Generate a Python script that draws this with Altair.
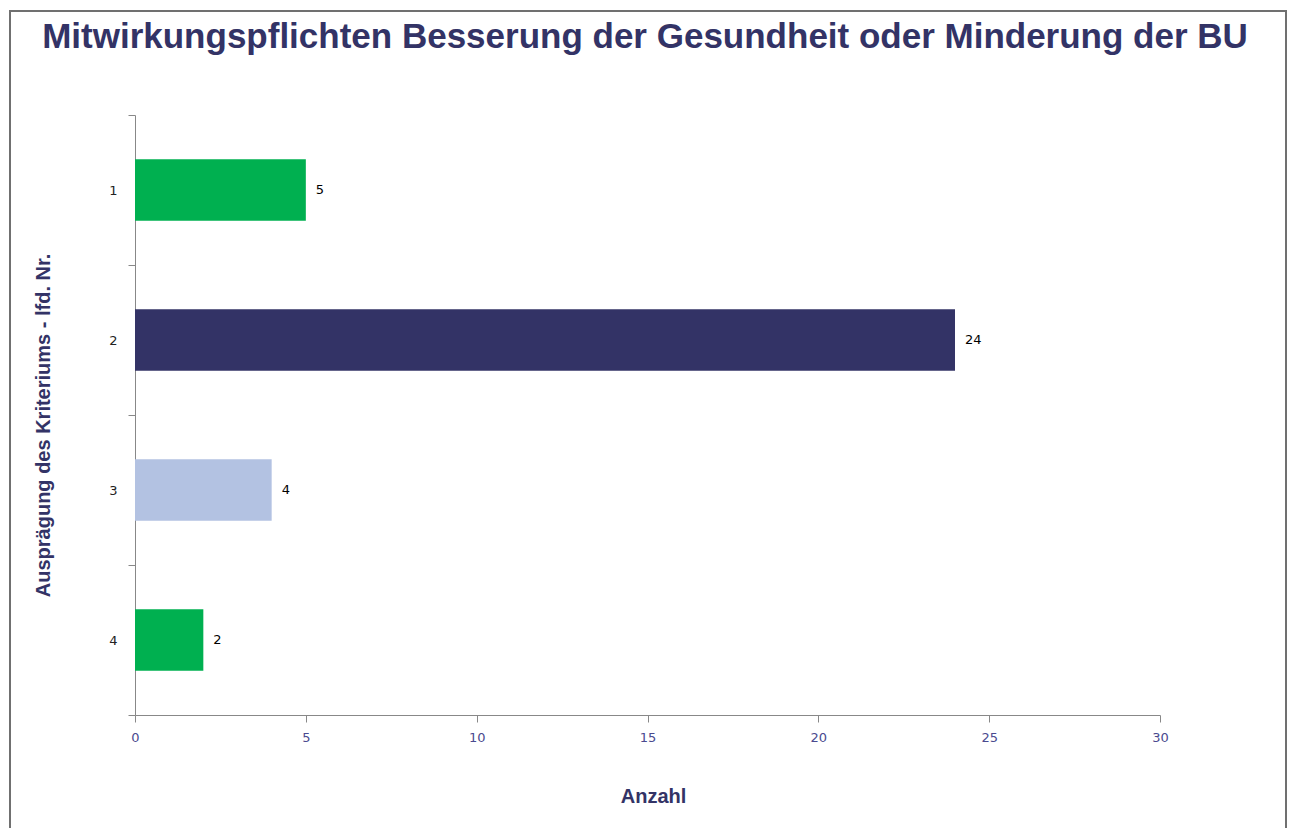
import altair as alt
import pandas as pd

categories = ["1", "2", "3", "4"]
values = [5, 24, 4, 2]
colors = ["#00B050", "#333366", "#B3C2E2", "#00B050"]
x_ticks = [0, 5, 10, 15, 20, 25, 30]

title_text = "Mitwirkungspflichten Besserung der Gesundheit oder Minderung der BU"
x_title = "Anzahl"
y_title = "Ausprägung des Kriteriums - lfd. Nr."

df = pd.DataFrame({"kat": categories, "anzahl": values, "farbe": colors})

W, H = 1025, 600
PAD_L, PAD_T = 127, 107
TOTAL_W, TOTAL_H = 1279, 820

y_enc = alt.Y(
    "kat:N",
    sort=categories,
    scale=alt.Scale(paddingInner=0, paddingOuter=0),
    axis=alt.Axis(
        title=y_title,
        titleFont="Liberation Sans",
        titleFontWeight="bold",
        titleFontSize=20,
        titleColor="#333366",
        titlePadding=55,
        titleY=310,
        labelFont="DejaVu Sans",
        labelFontSize=13,
        labelColor="#222222",
        labelPadding=11,
        tickBand="extent",
        tickSize=7,
        tickColor="#888888",
        domainColor="#888888",
        labelAngle=0,
        grid=False,
    ),
)

x_enc = alt.X(
    "anzahl:Q",
    scale=alt.Scale(domain=[0, 30], nice=False),
    axis=alt.Axis(
        title=x_title,
        values=x_ticks,
        titleFont="Liberation Sans",
        titleFontWeight="bold",
        titleFontSize=20,
        titleColor="#333366",
        titlePadding=42,
        titleX=518,
        labelFont="DejaVu Sans",
        labelFontSize=13,
        labelColor="#4a4a8f",
        labelPadding=9,
        labelFlush=False,
        tickSize=7,
        tickColor="#888888",
        domainColor="#888888",
        grid=False,
    ),
)

bars = alt.Chart(df).mark_bar(height={"band": 0.41}).encode(
    x=x_enc,
    y=y_enc,
    color=alt.Color("farbe:N", scale=None),
)

labels = alt.Chart(df).mark_text(
    align="left", baseline="middle", dx=10, font="DejaVu Sans", fontSize=13, color="#000000"
).encode(
    x="anzahl:Q",
    y=alt.Y("kat:N", sort=categories),
    text="anzahl:Q",
)

one = pd.DataFrame({"a": [0]})

frame = alt.Chart(one).mark_rect(
    fill="transparent", stroke="#707070", strokeWidth=2
).encode(
    x=alt.value(-125), x2=alt.value(1151), y=alt.value(-104), y2=alt.value(740)
)

title = alt.Chart(one).mark_text(
    align="center", baseline="alphabetic", font="Liberation Sans", fontSize=35,
    fontWeight="bold", color="#333366"
).encode(
    x=alt.value(510), y=alt.value(-67), text=alt.value(title_text)
)

chart = alt.layer(frame, bars, labels, title).properties(
    width=W,
    height=H,
    background="white",
    autosize=alt.AutoSizeParams(type="none"),
    padding={"left": PAD_L, "top": PAD_T, "right": TOTAL_W - PAD_L - W, "bottom": TOTAL_H - PAD_T - H},
).configure_view(strokeWidth=0, stroke="transparent")

chart.save("out.html", embed_options={"renderer": "svg", "actions": False})
